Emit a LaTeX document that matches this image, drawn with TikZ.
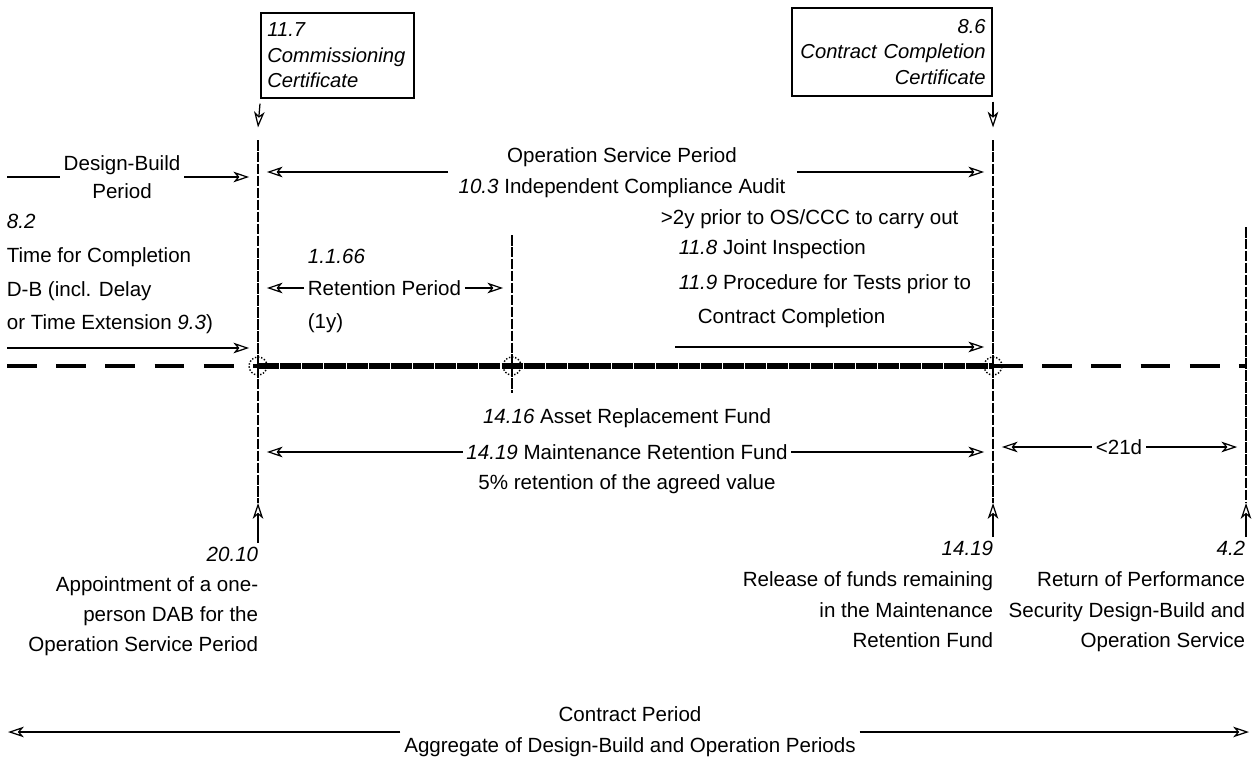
\documentclass[tikz,border=0pt]{standalone}
\usepackage{fontspec}
\setmainfont{Liberation Sans}
\usetikzlibrary{arrows.meta}
\tikzset{
  arr/.style={-{Stealth[open,length=9pt,width=6pt,inset=2.5pt]},line width=0.7pt,shorten >=5pt},
  vline/.style={line width=1pt,dash pattern=on 6pt off 0.8pt},
  band/.style={line width=3pt,dash pattern=on 12pt off 0.6pt},
  bandgap/.style={line width=2.8pt,dash pattern=on 17pt off 11pt},
  certbox/.style={draw,line width=0.9pt,inner sep=0.13cm,font=\fontsize{11.5}{14.5}\selectfont\itshape},
  txt/.style={font=\fontsize{11.7}{17}\selectfont,inner sep=2pt},
}
\begin{document}
\begin{tikzpicture}[x=0.02cm,y=-0.02cm,every node/.style={txt}]
  \useasboundingbox (0,0) rectangle (1260,767);
  % certificates
  \node[certbox,anchor=north west,align=left,text width=2.8cm,minimum height=1.7cm] (comm) at (260,12) {11.7\\Commissioning\\Certificate};
  \node[certbox,anchor=north east,align=right,text width=3.75cm,minimum height=1.76cm] (ccc) at (993,7) {8.6\\Contract Completion\\Certificate};
  % time lines
  \coordinate (c1t) at (258,140);
  \coordinate (c1x) at (258,366);
  \coordinate (c1b) at (258,503);
  \coordinate (c2t) at (993,140);
  \coordinate (c2x) at (993,366);
  \coordinate (c2b) at (993,503);
  \coordinate (c3t) at (1246,227);
  \coordinate (c3b) at (1246,503);
  \coordinate (rt) at (512,235);
  \coordinate (rx) at (512,366);
  \coordinate (rb) at (512,393);
  \draw[vline] (c1t) -- (c1b);
  \draw[vline] (c2t) -- (c2b);
  \draw[vline] (c3t) -- (c3b);
  \draw[vline] (rt) -- (rb);
  \draw[arr,shorten >=0pt] ([yshift=-0.1cm]comm.south west) -- ([yshift=0.25cm]c1t);
  \draw[arr,shorten >=0pt] ([yshift=-0.1cm]ccc.south east) -- ([yshift=0.25cm]c2t);
  % band
  \coordinate (bw) at (7,366);
  \coordinate (be) at (1247,366);
  \draw[band] (c1x) -- (c2x);
  \draw[bandgap] (bw) -- (c1x);
  \draw[bandgap] (c2x) -- (be);
  \foreach \k in {c1x,rx,c2x}
    \draw[densely dotted,line width=0.8pt] (\k) circle[radius=0.18cm];
  % design-build
  \coordinate (dbw) at (7,177);
  \node[align=center,font=\fontsize{11.7}{16}\selectfont] (dbp) at (122,177) {Design-Build\\Period};
  \draw[line width=0.7pt] (dbw) -- (dbp.west);
  \draw[arr] (dbp.east) -- (dbp.east -| c1t);
  \node[anchor=west,align=left,font=\fontsize{11.7}{19.3}\selectfont] (tfc) at (3,274) {\textit{8.2}\\Time for Completion\\D-B (incl. Delay\\or Time Extension \textit{9.3})};
  \coordinate (dbs) at (7,348);
  \draw[arr] (dbs) -- (dbs -| c1t);
  % operation service
  \node (osp) at (622,157) {Operation Service Period};
  \node (audit) at (622,188) {\textit{10.3} Independent Compliance Audit};
  \coordinate (osl) at (448,172);
  \coordinate (osr) at (797,172);
  \draw[arr] (osl) -- (osl -| c1t);
  \draw[arr] (osr) -- (osr -| c2t);
  \node[anchor=west] (prior) at (657,219) {>2y prior to OS/CCC to carry out};
  \node[anchor=west] (joint) at (675,249) {\textit{11.8} Joint Inspection};
  \node[anchor=west] (proc) at (675,284) {\textit{11.9} Procedure for Tests prior to};
  \node[anchor=west] (procb) at (694,318) {Contract Completion};
  \coordinate (ccs) at (675,347);
  \draw[arr] (ccs) -- (ccs -| c2t);
  % retention
  \node[anchor=west] (r66) at (304,256) {\textit{1.1.66}};
  \node[anchor=west] (ret) at (304,288) {Retention Period};
  \node[anchor=west] (r1y) at (304,323) {(1y)};
  \draw[arr] (ret.west) -- (ret.west -| c1t);
  \draw[arr] (ret.east) -- (ret.east -| rt);
  % funds
  \node (asset) at (627,418) {\textit{14.16} Asset Replacement Fund};
  \node (mrf) at (627,452) {\textit{14.19} Maintenance Retention Fund};
  \node (pct) at (627,484) {5\% retention of the agreed value};
  \draw[arr] (mrf.west) -- (mrf.west -| c1t);
  \draw[arr] (mrf.east) -- (mrf.east -| c2t);
  \node (d21) at (1119,447) {<21d};
  \draw[arr] (d21.west) -- (d21.west -| c2t);
  \draw[arr] (d21.east) -- (d21.east -| c3t);
  % releases
  \node[anchor=north east,align=right,font=\fontsize{11.7}{17.2}\selectfont] (dab) at (262,543) {\textit{20.10}\\Appointment of a one-\\person DAB for the\\Operation Service Period};
  \node[anchor=north east,align=right,font=\fontsize{11.7}{17.6}\selectfont] (rel) at (997,537) {\textit{14.19}\\Release of funds remaining\\in the Maintenance\\Retention Fund};
  \node[anchor=north east,align=right,font=\fontsize{11.7}{17.6}\selectfont] (perf) at (1249,537) {\textit{4.2}\\Return of Performance\\Security Design-Build and\\Operation Service};
  \draw[arr,shorten >=0pt] (dab.north east -| c1b) -- (c1b);
  \draw[arr,shorten >=0pt] (rel.north east -| c2b) -- (c2b);
  \draw[arr,shorten >=0pt] (perf.north east -| c3b) -- (c3b);
  % contract period
  \node[align=center,font=\fontsize{11.7}{17.6}\selectfont] (cp) at (630,732) {Contract Period\\Aggregate of Design-Build and Operation Periods};
  \coordinate (cpl) at (8,730);
  \coordinate (cpr) at (1249,730);
  \draw[arr,shorten >=0pt] (cp.west) -- (cp.west -| cpl);
  \draw[arr,shorten >=0pt] (cp.east) -- (cp.east -| cpr);
\end{tikzpicture}
\end{document}
